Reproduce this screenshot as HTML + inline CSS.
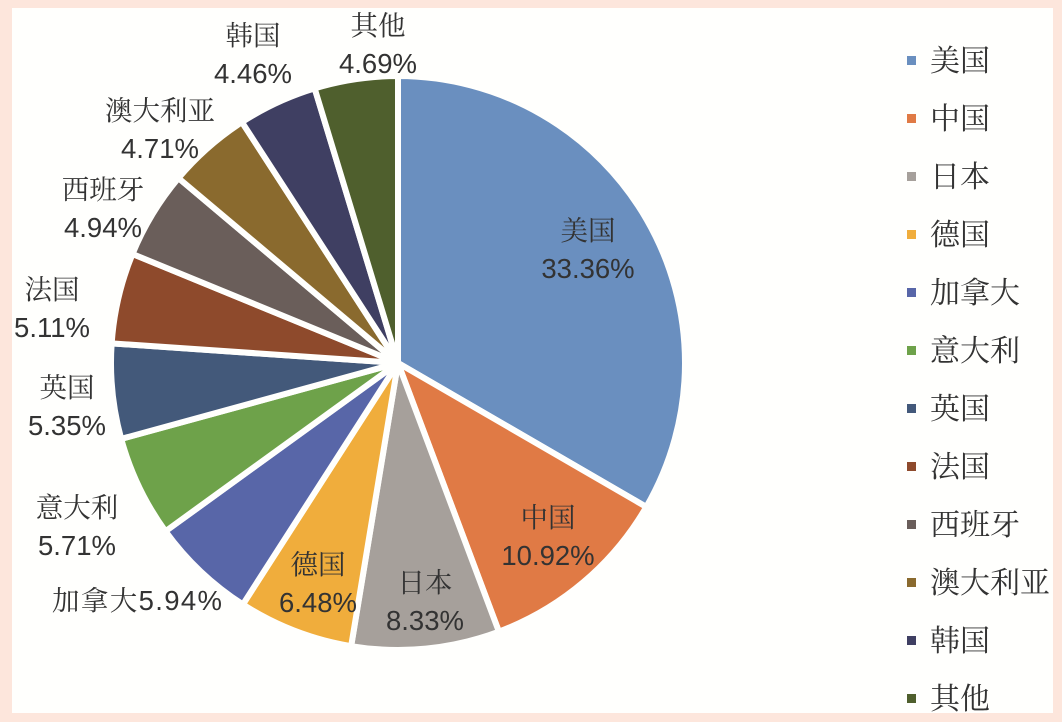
<!DOCTYPE html>
<html><head><meta charset="utf-8"><style>
body{margin:0;background:#fde6dc;}
#wrap{position:relative;width:1062px;height:722px;background:#fde6dc;}
#panel{position:absolute;left:12px;top:8px;width:1041px;height:705px;background:#fffffd;}
svg{position:absolute;left:0;top:0;}
text{font-family:"Liberation Sans","Noto Serif CJK SC","Noto Sans CJK SC",sans-serif;fill:#333;}
</style></head><body>
<div id="wrap">
<div id="panel"></div>
<svg id="chart" width="1062" height="722"></svg>
</div>
<script>
const categories=["美国","中国","日本","德国","加拿大","意大利","英国","法国","西班牙","澳大利亚","韩国","其他"];
const values=[33.36,10.92,8.33,6.48,5.94,5.71,5.35,5.11,4.94,4.71,4.46,4.69];
const colors=["#6a8fbf","#e07a45","#a6a09b","#f0ad3c","#5866a8","#6ea24a","#43597a","#8e4a2c","#6a5e5a","#8a6a2e","#3f3f62","#4f5f2d"];
const labelPos=[[588,240],[548,527],[425,592],[318,574],[0,0],[77,517],[67,397],[52,299],[103,199],[160,120],[253,45],[378,35]];
const NS="http://www.w3.org/2000/svg";
const svg=document.getElementById('chart');
const cx=398,cy=363,R=287;
const total=values.reduce((a,b)=>a+b,0);
function pt(a,r){return [cx+r*Math.sin(a),cy-r*Math.cos(a)];}
let a0=0;
values.forEach((v,i)=>{
  const a1=a0+v/total*2*Math.PI;
  const p0=pt(a0,R),p1=pt(a1,R);
  const large=(a1-a0)>Math.PI?1:0;
  const path=document.createElementNS(NS,'path');
  path.setAttribute('d',`M${cx},${cy}L${p0[0]},${p0[1]}A${R},${R} 0 ${large} 1 ${p1[0]},${p1[1]}Z`);
  path.setAttribute('fill',colors[i]);
  path.setAttribute('stroke','#fffffd');
  path.setAttribute('stroke-width','6');
  path.setAttribute('stroke-linejoin','round');
  
  
  svg.appendChild(path);
  a0=a1;
});
values.forEach((v,i)=>{
  const t=document.createElementNS(NS,'text');
  t.setAttribute('font-size','27.5');
  
  
  if(i===4){
    t.setAttribute('x',52);t.setAttribute('y',610);
    t.setAttribute('textLength','170');
    t.textContent=categories[i]+v.toFixed(2)+'%';
  } else {
    const [x,y]=labelPos[i];
    t.setAttribute('text-anchor','middle');
    const s1=document.createElementNS(NS,'tspan');
    s1.setAttribute('x',x);s1.setAttribute('y',y);s1.textContent=categories[i];
    const s2=document.createElementNS(NS,'tspan');
    s2.setAttribute('x',x);s2.setAttribute('y',y+38);s2.textContent=v.toFixed(2)+'%';
    t.appendChild(s1);t.appendChild(s2);
  }
  svg.appendChild(t);
});
categories.forEach((c,i)=>{
  const y=60+i*58;
  const r=document.createElementNS(NS,'rect');
  r.setAttribute('x',907);r.setAttribute('y',y-4);r.setAttribute('width',9);r.setAttribute('height',9);
  r.setAttribute('fill',colors[i]);
  
  
  svg.appendChild(r);
  const t=document.createElementNS(NS,'text');
  t.setAttribute('x',930);t.setAttribute('y',y+11);t.setAttribute('font-size','30');
  t.textContent=c;
  
  
  svg.appendChild(t);
});
</script>
</body></html>
